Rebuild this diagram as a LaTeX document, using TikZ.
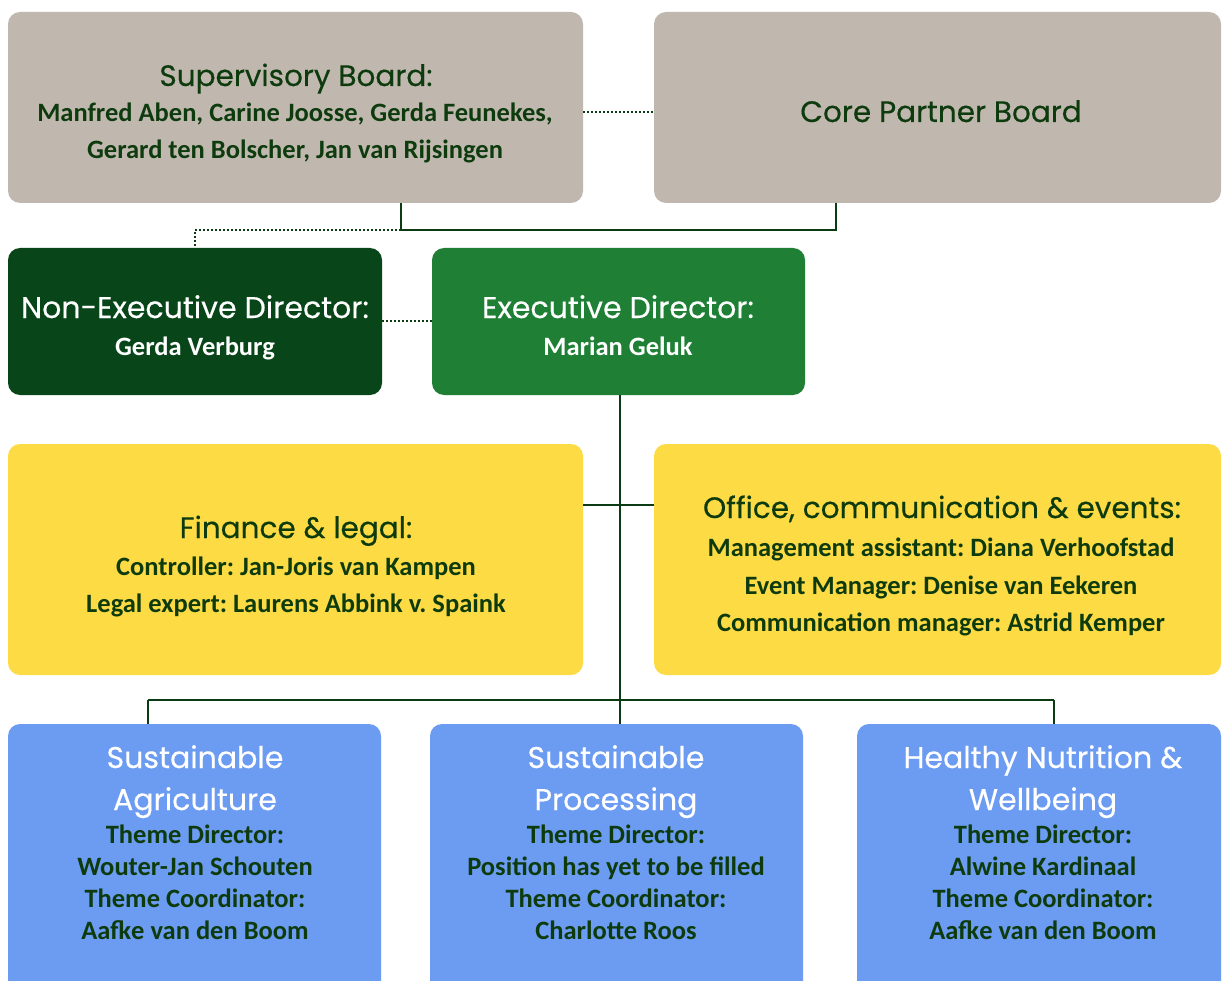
\documentclass[tikz,border=0pt]{standalone}
\usepackage{fontspec}
\setmainfont{Carlito}
\newfontfamily\headfont{Poppins}[FakeBold=0.35]
\newfontfamily\bodyfont{Carlito}
\definecolor{greybox}{HTML}{C0B8AF}
\definecolor{darkgreen}{HTML}{08461A}
\definecolor{midgreen}{HTML}{1F8035}
\definecolor{yellowbox}{HTML}{FDDB44}
\definecolor{bluebox}{HTML}{6C9CF2}
\definecolor{txt}{HTML}{0E3B0E}
\definecolor{linec}{HTML}{0B3B12}
\tikzset{
  box/.style={rounded corners=12pt, draw=none},
  head/.style={anchor=base, inner sep=0pt, font=\headfont\frenchspacing\fontsize{29.5}{32}\selectfont},
  bighead/.style={anchor=base, inner sep=0pt, font=\headfont\frenchspacing\fontsize{30}{32}\selectfont},
  body/.style={anchor=base, inner sep=0pt, font=\bodyfont\bfseries\frenchspacing\fontsize{26.5}{30}\selectfont},
  conn/.style={draw=linec, line width=2.4pt},
  dotconn/.style={draw=linec, line width=2pt, dash pattern=on 2pt off 2pt},
}
\begin{document}
\begin{tikzpicture}[x=1pt,y=-1pt]
\useasboundingbox (0,0) rectangle (1222,981);
\clip (0,0) rectangle (1222,981);
% boxes
\fill[box, greybox] (8,12) rectangle (583,203);
\node[coordinate] (supE) at (583,112) {};
\fill[box, greybox] (654,12) rectangle (1221,203);
\node[coordinate] (coreW) at (654,112) {};
\fill[box, darkgreen] (8,248) rectangle (382,395);
\fill[box, midgreen] (432,248) rectangle (805,395);
\fill[box, yellowbox] (8,444) rectangle (583,675);
\fill[box, yellowbox] (654,444) rectangle (1221,675);
\fill[box, bluebox] (8,724) rectangle (381,1010);
\fill[box, bluebox] (430,724) rectangle (803,1010);
\fill[box, bluebox] (857,724) rectangle (1221,1010);
% connector coordinates
\coordinate (supS) at (401,203);
\coordinate (j1) at (401,230);
\coordinate (coreS) at (836,203);
\coordinate (j2) at (836,230);
\coordinate (j3) at (195,230);
\coordinate (neN) at (195,248);
\coordinate (neE) at (382,321);
\coordinate (exW) at (432,321);
\coordinate (exS) at (620,395);
\coordinate (finE) at (583,505);
\coordinate (offW) at (654,505);
\coordinate (barL) at (148,700);
\coordinate (barR) at (1054,700);
\coordinate (agN) at (148,724);
\coordinate (prN) at (620,724);
\coordinate (heN) at (1054,724);
% connectors
\draw[dotconn] (supE) -- (coreW);
\draw[conn] (supS) -- (j1) -- (j2) -- (coreS);
\draw[dotconn] (j1) -- (j3) -- (neN);
\draw[dotconn] (neE) -- (exW);
\draw[conn] (exS) -- (prN);
\draw[conn] (finE) -- (offW);
\draw[conn] (barL) -- (barR);
\draw[conn] (barL) -- (agN);
\draw[conn] (barR) -- (heN);
% texts
\node[head, txt] (t1) at (296,86) {Supervisory Board:};
\node[body, txt] (t2) at (295,122) {Manfred Aben, Carine Joosse, Gerda Feunekes,};
\node[body, txt] (t3) at (295,159) {Gerard ten Bolscher, Jan van Rijsingen};
\node[head, txt] (t4) at (941,122) {Core Partner Board};
\node[bighead, white] (t5) at (195,318) {Non-Executive Director:};
\node[body, white] (t6) at (195,355) {Gerda Verburg};
\node[bighead, white] (t7) at (618,318) {Executive Director:};
\node[body, white] (t8) at (618,355) {Marian Geluk};
\node[head, txt] (t9) at (296,538) {Finance \& legal:};
\node[body, txt] (t10) at (296,575) {Controller: Jan-Joris van Kampen};
\node[body, txt] (t11) at (296,612) {Legal expert: Laurens Abbink v. Spaink};
\node[head, txt] (t12) at (942,518) {Office, communication \& events:};
\node[body, txt] (t13) at (941,556) {Management assistant: Diana Verhoofstad};
\node[body, txt] (t14) at (941,594) {Event Manager: Denise van Eekeren};
\node[body, txt] (t15) at (941,631) {Communication manager: Astrid Kemper};
% blue texts
\node[bighead, white] (a1) at (195,768) {Sustainable};
\node[bighead, white] (a2) at (195,810) {Agriculture};
\node[body, txt] (a3) at (195,843) {Theme Director:};
\node[body, txt] (a4) at (195,875) {Wouter-Jan Schouten};
\node[body, txt] (a5) at (195,907) {Theme Coordinator:};
\node[body, txt] (a6) at (195,939) {Aafke van den Boom};
\node[bighead, white] (p1) at (616,768) {Sustainable};
\node[bighead, white] (p2) at (616,810) {Processing};
\node[body, txt] (p3) at (616,843) {Theme Director:};
\node[body, txt] (p4) at (616,875) {Position has yet to be filled};
\node[body, txt] (p5) at (616,907) {Theme Coordinator:};
\node[body, txt] (p6) at (616,939) {Charlotte Roos};
\node[bighead, white] (h1) at (1043,768) {Healthy Nutrition \&};
\node[bighead, white] (h2) at (1043,810) {Wellbeing};
\node[body, txt] (h3) at (1043,843) {Theme Director:};
\node[body, txt] (h4) at (1043,875) {Alwine Kardinaal};
\node[body, txt] (h5) at (1043,907) {Theme Coordinator:};
\node[body, txt] (h6) at (1043,939) {Aafke van den Boom};
\end{tikzpicture}
\end{document}
